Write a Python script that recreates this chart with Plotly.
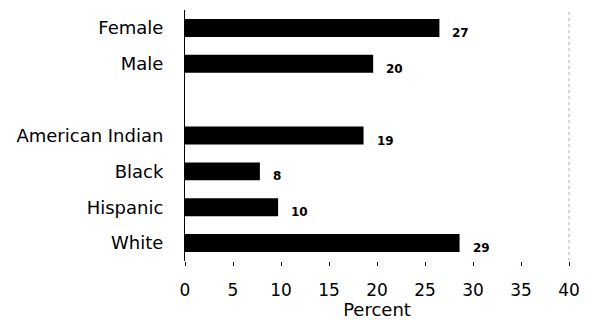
import plotly.graph_objects as go

# Data
categories = ["Female", "Male", "American Indian", "Black", "Hispanic", "White"]
values = [26.5, 19.6, 18.6, 7.8, 9.7, 28.6]
value_labels = ["27", "20", "19", "8", "10", "29"]
# row slot of each category (blank slot between sex and race groups)
slots = [0, 1, 3, 4, 5, 6]
x_ticks = [0, 5, 10, 15, 20, 25, 30, 35, 40]

FONT = "DejaVu Sans"

fig = go.Figure()
fig.add_trace(go.Bar(
    x=values,
    y=slots,
    orientation="h",
    width=0.5,
    marker=dict(color="black", line=dict(width=0)),
    hoverinfo="skip",
))

for v, s, lab in zip(values, slots, value_labels):
    fig.add_annotation(
        x=v, y=s, text="<b>" + lab + "</b>", showarrow=False,
        xanchor="left", yanchor="middle", xshift=11, yshift=-5,
        font=dict(family=FONT, size=12, color="black"),
    )

# faint dotted frame line on the right (as in the scanned original)
fig.add_shape(type="line", xref="x domain", yref="y domain",
              x0=1, x1=1, y0=0, y1=1,
              line=dict(color="#b0b0b0", width=1, dash="dot"))

fig.update_layout(
    width=589, height=320,
    margin=dict(l=185, r=20, t=10, b=59),
    paper_bgcolor="white", plot_bgcolor="white",
    showlegend=False,
    font=dict(family=FONT, color="black"),
    xaxis=dict(
        range=[0, 40], tickvals=x_ticks, ticktext=[str(t) for t in x_ticks],
        showgrid=False, zeroline=False, showline=False,
        ticks="outside", ticklen=4, tickcolor="black",
        ticklabelstandoff=10,
        tickfont=dict(family=FONT, size=17, color="black"),
        title=dict(text="Percent", font=dict(family=FONT, size=18, color="black"), standoff=0),
        automargin=False,
    ),
    yaxis=dict(
        range=[6.5, -0.5], tickvals=slots, ticktext=categories,
        showgrid=False, zeroline=False,
        showline=True, linecolor="black", linewidth=1,
        ticks="", ticklabelstandoff=17,
        tickfont=dict(family=FONT, size=18, color="black"),
        automargin=False,
    ),
)

fig.write_html("out.html", config={"displayModeBar": False},
               post_script="document.body.style.margin='0px';")
